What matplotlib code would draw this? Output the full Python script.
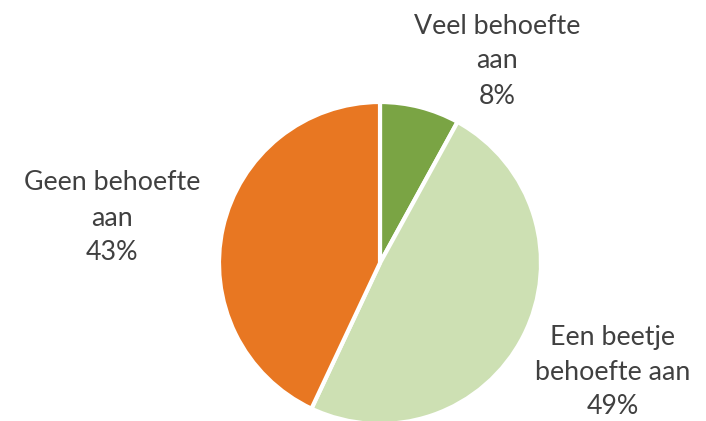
import matplotlib
matplotlib.use("Agg")
import matplotlib.pyplot as plt

categories = ["Veel behoefte\naan", "Een beetje\nbehoefte aan", "Geen behoefte\naan"]
values = [8, 49, 43]
colors = ["#7AA444", "#CDE0B3", "#E87722"]

W, H = 706, 421
fig = plt.figure(figsize=(W / 100, H / 100), dpi=100)
ax = fig.add_axes([0, 0, 1, 1])

cx, cy, r = 380, H - 263, 161
ax.pie(values, colors=colors, startangle=90, counterclock=False,
       center=(cx, cy), radius=r, frame=True,
       wedgeprops=dict(edgecolor="white", linewidth=3))
ax.set_xlim(0, W)
ax.set_ylim(0, H)
ax.set_aspect("equal")
ax.axis("off")

label_pos = [(497, 61), (613, 372), (112, 218)]
for cat, v, (x, y) in zip(categories, values, label_pos):
    ax.text(x, H - y, f"{cat}\n{v}%", ha="center", va="center",
            fontsize=19.3, family="Lato", color="#404040", linespacing=1.5)

fig.savefig("out.png", dpi=100)
